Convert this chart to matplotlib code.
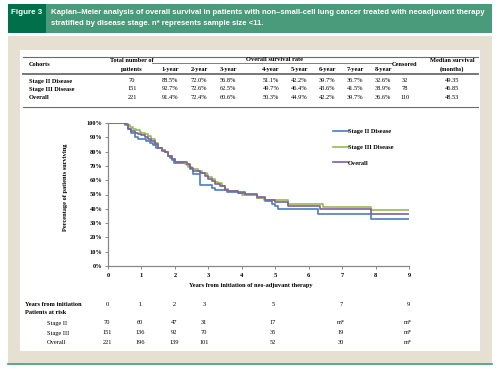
import matplotlib.pyplot as plt
import matplotlib.patches as patches

# ---- data ----
years_hdr = ['1-year', '2-year', '3-year', '4-year', '5-year', '6-year', '7-year', '8-year']
cohorts = ['Stage II Disease', 'Stage III Disease', 'Overall']
n_total = ['70', '151', '221']
surv_rates = [
    ['88.5%', '72.0%', '56.8%', '51.1%', '42.2%', '39.7%', '36.7%', '32.6%'],
    ['92.7%', '72.6%', '62.5%', '49.7%', '46.4%', '43.6%', '41.5%', '38.9%'],
    ['91.4%', '72.4%', '60.6%', '50.3%', '44.9%', '42.2%', '39.7%', '36.6%'],
]
censored = ['32', '78', '110']
median_surv = ['49.35', '46.85', '48.53']

# KM step curves (time in years, survival % after each drop)
t_stage2 = [0, 0.5, 0.6, 0.7, 0.8, 0.9, 1.15, 1.25, 1.35, 1.45, 1.6, 1.7, 1.78, 1.85, 1.92, 1.98,
            2.35, 2.45, 2.55, 2.75, 3.1, 3.2, 3.55, 4.1, 4.45, 4.7, 4.9, 5.0, 5.07, 6.28, 7.87, 9.0]
s_stage2 = [100, 98.6, 95.7, 92.8, 90.0, 88.5, 87.1, 85.7, 84.3, 82.8, 81.4, 80.0, 77.1, 75.7, 74.2, 72.0,
            70.5, 67.5, 64.6, 56.8, 54.5, 53.0, 51.6, 49.5, 47.5, 45.2, 43.5, 42.2, 39.9, 36.7, 32.6, 32.6]
t_stage3 = [0, 0.55, 0.65, 0.75, 0.85, 0.95, 1.0, 1.1, 1.2, 1.3, 1.4, 1.5, 1.6, 1.7, 1.8, 1.9, 2.0,
            2.3, 2.4, 2.5, 2.7, 2.8, 2.95, 3.0, 3.1, 3.2, 3.3, 3.4, 3.5, 3.6, 3.9, 4.0, 4.45, 4.65,
            5.37, 6.42, 7.87, 9.0]
s_stage3 = [100, 98.7, 97.4, 96.0, 95.3, 94.0, 92.7, 92.0, 90.7, 88.7, 86.1, 82.8, 80.8, 79.5, 76.8, 74.8, 72.6,
            71.5, 69.5, 67.5, 66.2, 64.9, 63.5, 62.5, 61.0, 59.0, 57.7, 55.6, 53.6, 52.3, 51.0, 49.7, 47.5, 46.4,
            43.6, 41.5, 38.9, 38.9]
t_overall = [0, 0.5, 0.6, 0.7, 0.8, 0.9, 1.0, 1.1, 1.2, 1.3, 1.4, 1.5, 1.6, 1.7, 1.8, 1.9, 2.0,
             2.35, 2.45, 2.55, 2.75, 2.9, 3.0, 3.1, 3.2, 3.35, 3.5, 3.6, 3.9, 4.1, 4.45, 4.7, 5.0,
             5.37, 6.35, 7.87, 9.0]
s_overall = [100, 99.0, 96.0, 94.6, 93.2, 92.3, 91.4, 90.5, 89.1, 87.3, 85.0, 82.3, 80.5, 79.6, 76.9, 74.7, 72.4,
             71.0, 68.8, 66.5, 64.7, 62.9, 60.6, 59.3, 57.5, 55.7, 53.4, 52.5, 51.2, 50.3, 48.0, 46.2, 44.9,
             42.2, 39.7, 36.6, 36.6]

risk_years = ['0', '1', '2', '3', '5', '7', '9']
risk_labels = ['Stage II', 'Stage III', 'Overall']
risk_stage2 = ['70', '60', '47', '31', '17', 'm*', 'm*']
risk_stage3 = ['151', '136', '92', '70', '35', '19', 'm*']
risk_overall = ['221', '196', '139', '101', '52', '30', 'm*']

W, H = 498, 373
fig = plt.figure(figsize=(W / 100, H / 100), dpi=100)
fig.patch.set_facecolor('white')

# background axes in pixel coordinates
bg = fig.add_axes([0, 0, 1, 1])
bg.set_xlim(0, W)
bg.set_ylim(H, 0)
bg.axis('off')

# header band
bg.add_patch(patches.Rectangle((8, 4), 484, 29, color='#4a9a7c', lw=0))
bg.add_patch(patches.Rectangle((8, 4), 38, 29, color='#00704a', lw=0))
hfont = dict(family=['Liberation Sans', 'DejaVu Sans'], weight='bold', color='white', fontsize=5.55)
bg.text(11, 13, 'Figure 3', va='center', ha='left', **dict(hfont, fontsize=5.8))
bg.text(51, 13, 'Kaplan\u2013Meier analysis of overall survival in patients with non\u2013small-cell lung cancer treated with neoadjuvant therapy',
        va='center', ha='left', **hfont)
bg.text(51, 23.5, 'stratified by disease stage. n* represents sample size <11.', va='center', ha='left', **hfont)

# beige frame and white panel
bg.add_patch(patches.Rectangle((8, 36), 484, 327, color='#e6e0d2', lw=0))
bg.add_patch(patches.Rectangle((20, 50), 460, 301, color='white', lw=0))
bg.plot([8, 492], [364, 364], color='#3d9a70', lw=1.2)

# ---- survival table ----
serif = ['Liberation Serif', 'DejaVu Serif']
fs = 4.6
lc = '#6b6b6b'
bg.plot([23, 478], [56.5, 56.5], color=lc, lw=0.8)
bg.plot([152, 392], [63, 63], color=lc, lw=0.6)
bg.plot([23, 478], [74, 74], color=lc, lw=1.3)
bg.plot([23, 478], [107, 107], color=lc, lw=0.8)

bg.text(29, 65, 'Cohorts', family=serif, weight='bold', fontsize=fs, va='center')
bg.text(132, 60.5, 'Total number of', family=serif, weight='bold', fontsize=fs, va='center', ha='center')
bg.text(132, 69, 'patients', family=serif, weight='bold', fontsize=fs, va='center', ha='center')
bg.text(275, 59.5, 'Overall survival rate', family=serif, weight='bold', fontsize=fs, va='center', ha='center')
bg.text(405, 65, 'Censored', family=serif, weight='bold', fontsize=fs, va='center', ha='center')
bg.text(452, 60.5, 'Median survival', family=serif, weight='bold', fontsize=fs, va='center', ha='center')
bg.text(452, 69, '(months)', family=serif, weight='bold', fontsize=fs, va='center', ha='center')

year_x = [170, 199, 228, 271, 299, 327, 355, 383]
for xx, lab in zip(year_x, years_hdr):
    bg.text(xx, 69, lab, family=serif, weight='bold', fontsize=fs, va='center', ha='center')

row_y = [81, 89, 97.5]
for i, yy in enumerate(row_y):
    bg.text(29, yy, cohorts[i], family=serif, weight='bold', fontsize=fs, va='center')
    bg.text(132, yy, n_total[i], family=serif, fontsize=fs, va='center', ha='center')
    for xx, val in zip(year_x, surv_rates[i]):
        bg.text(xx, yy, val, family=serif, fontsize=fs, va='center', ha='center')
    bg.text(405, yy, censored[i], family=serif, fontsize=fs, va='center', ha='center')
    bg.text(452, yy, median_surv[i], family=serif, fontsize=fs, va='center', ha='center')

# ---- KM plot ----
x0, x1, ytop, ybot = 108, 409, 123, 266
ax = fig.add_axes([x0 / W, (H - ybot) / H, (x1 - x0) / W, (ybot - ytop) / H])
ax.step(t_stage2, s_stage2, where='post', color='#4a7ebb', lw=1.2, label='Stage II Disease')
ax.step(t_stage3, s_stage3, where='post', color='#98b954', lw=1.2, label='Stage III Disease')
ax.step(t_overall, s_overall, where='post', color='#7d60a0', lw=1.2, label='Overall')
ax.set_xlim(0, 9)
ax.set_ylim(0, 100)
ax.set_xticks(range(10))
ax.set_yticks(range(0, 101, 10))
ax.set_yticklabels(['%d%%' % v for v in range(0, 101, 10)])
for s in ['top', 'right']:
    ax.spines[s].set_visible(False)
for s in ['left', 'bottom']:
    ax.spines[s].set_color('#888888')
    ax.spines[s].set_linewidth(0.9)
ax.tick_params(length=2, width=0.7, color='#888888', labelsize=fs, pad=2)
ax.tick_params(axis='x', pad=3)
for lab in ax.get_xticklabels() + ax.get_yticklabels():
    lab.set_family(serif)
    lab.set_fontweight('bold')
ax.patch.set_alpha(0)

leg = ax.legend(loc='upper left', bbox_to_anchor=(0.73, 1.0), frameon=False, handlelength=2.2,
                handletextpad=0.1, labelspacing=1.6, prop=dict(family=serif, weight='bold', size=fs))

bg.text(66, 187, 'Percentage of patients surviving', family=serif, weight='bold', fontsize=fs,
        rotation=90, va='center', ha='center')
bg.text(251, 285, 'Years from initiation of neo-adjuvant therapy', family=serif, weight='bold', fontsize=fs,
        va='center', ha='center')

# ---- patients at risk ----
risk_x = [107, 140, 174, 204, 273, 341, 408]
bg.text(25, 304, 'Years from initiation', family=serif, weight='bold', fontsize=fs, va='center')
for xx, lab in zip(risk_x, risk_years):
    bg.text(xx, 304, lab, family=serif, fontsize=fs, va='center', ha='center')
bg.text(25, 312.5, 'Patients at risk', family=serif, weight='bold', fontsize=fs, va='center')
for yy, lab, vals in zip([323, 333, 343], risk_labels, [risk_stage2, risk_stage3, risk_overall]):
    bg.text(47, yy, lab, family=serif, fontsize=fs, va='center')
    for xx, v in zip(risk_x, vals):
        bg.text(xx, yy, v, family=serif, fontsize=fs, va='center', ha='center')

fig.savefig('out.png', dpi=100)
